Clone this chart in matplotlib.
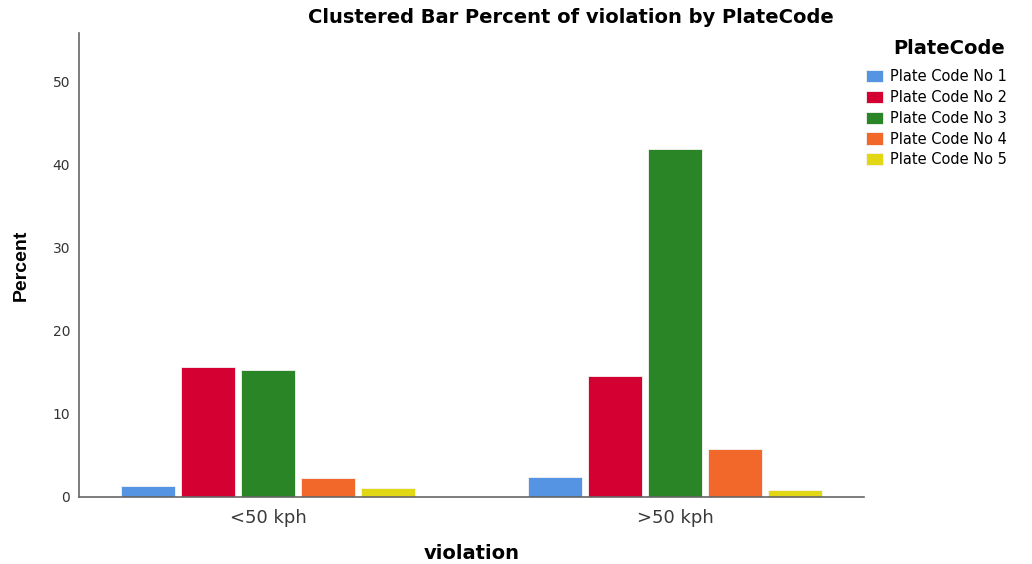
import matplotlib.pyplot as plt
import numpy as np

plt.rcParams['font.family'] = ['DejaVu Sans']

categories = ['<50 kph', '>50 kph']
series = ['Plate Code No 1', 'Plate Code No 2', 'Plate Code No 3',
          'Plate Code No 4', 'Plate Code No 5']
values = [
    [1.3, 2.4],
    [15.6, 14.5],
    [15.3, 41.9],
    [2.3, 5.8],
    [1.1, 0.8],
]
colors = ['#5593E3', '#D50032', '#2A8527', '#F2672A', '#E2D714']

fig = plt.figure(figsize=(10.32, 5.64), dpi=100)
ax = fig.add_axes([0.0766, 0.1188, 0.7606, 0.8227])

x = np.arange(len(categories))
pitch = 0.1474
width = 0.1327
for i, (name, vals, c) in enumerate(zip(series, values, colors)):
    ax.bar(x + (i - 2) * pitch, vals, width, color=c, label=name,
           edgecolor='#f4f4f4', linewidth=0.6)

ax.set_xlim(-0.464, 1.464)
ax.set_ylim(0, 55.8)
ax.set_yticks([0, 10, 20, 30, 40, 50])
ax.set_xticks(x)
ax.set_xticklabels(categories, fontsize=13, color='#3a3a3a')
ax.tick_params(axis='y', length=0, labelsize=10, pad=6.5, labelcolor='#333333')
ax.tick_params(axis='x', length=0, pad=9)

for s in ['top', 'right']:
    ax.spines[s].set_visible(False)
for s in ['left', 'bottom']:
    ax.spines[s].set_color('#666666')
    ax.spines[s].set_linewidth(1.2)

ax.set_ylabel('Percent', fontsize=14, fontweight='bold', labelpad=16,
              family='Liberation Sans')
ax.set_xlabel('violation', fontsize=14, fontweight='bold', labelpad=12)
fig.suptitle('Clustered Bar Percent of violation by PlateCode', x=0.553, y=0.985,
             fontsize=14, fontweight='bold')

leg = ax.legend(loc='upper left', bbox_to_anchor=(0.995, 0.934), frameon=False,
                fontsize=10.5, handlelength=1.2, handleheight=0.9,
                handletextpad=0.45, labelspacing=0.39, borderaxespad=0)
fig.text(949 / 1032, 1 - 48 / 564, 'PlateCode', ha='center', va='center',
         fontsize=14, fontweight='bold')

fig.savefig('out.png', dpi=100)
